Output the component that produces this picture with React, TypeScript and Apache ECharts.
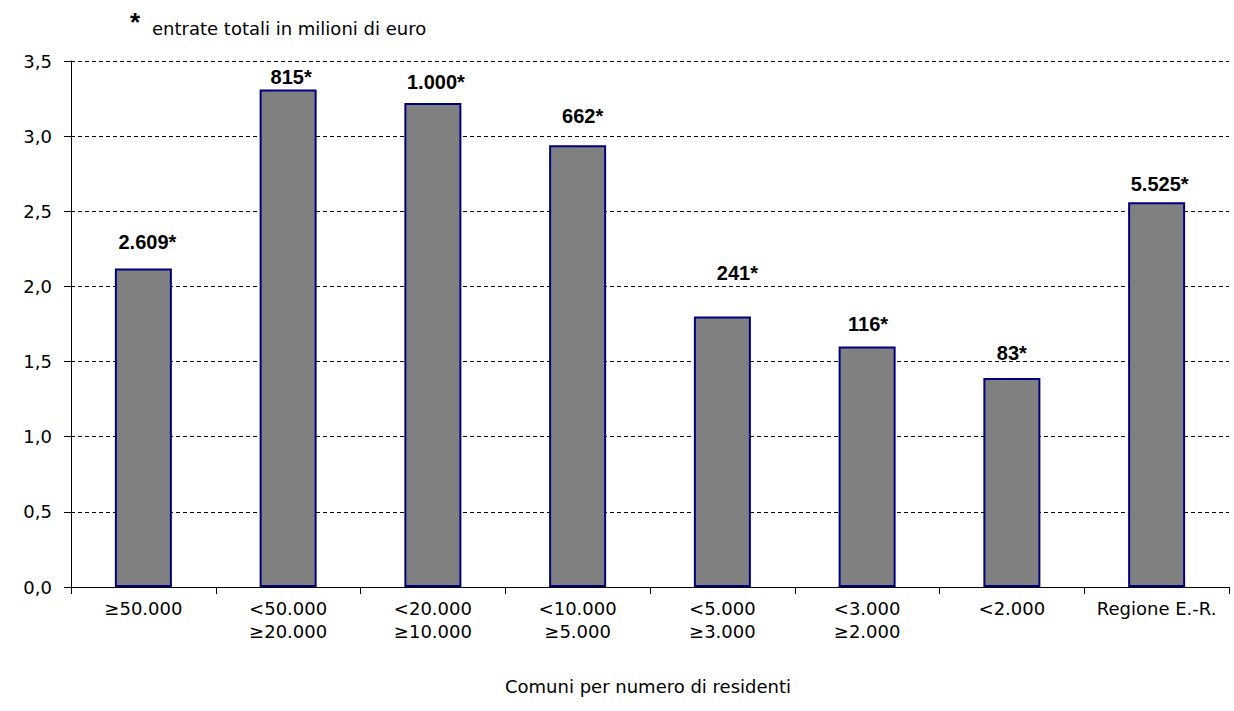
import React, { useEffect, useRef } from "react";
import * as echarts from "echarts";

const categories = [
  "≥50.000",
  "<50.000\n≥20.000",
  "<20.000\n≥10.000",
  "<10.000\n≥5.000",
  "<5.000\n≥3.000",
  "<3.000\n≥2.000",
  "<2.000",
  "Regione E.-R.",
];
const values = [2.12, 3.31, 3.22, 2.94, 1.8, 1.6, 1.39, 2.56];
const valueLabels = ["2.609*", "815*", "1.000*", "662*", "241*", "116*", "83*", "5.525*"];
const labelDistances = [16, 3, 11, 19, 33, 13, 15, 8];
const labelShiftX = [4, 3, 3, 5, 15, 1, 0, 3];
const yMin = 0;
const yMax = 3.5;
const yStep = 0.5;
const noteText = "entrate totali in milioni di euro";
const axisTitle = "Comuni per numero di residenti";

const REG = "'DejaVu Sans', 'Liberation Sans', Arial, sans-serif";
const BOLD = "'Liberation Sans', Arial, sans-serif";

export default function App() {
  const ref = useRef<HTMLDivElement>(null);
  useEffect(() => {
    document.body.style.margin = "0";
    if (!ref.current) return;
    const chart = echarts.init(ref.current, undefined, { renderer: "svg" });
    chart.setOption({
      animation: false,
      backgroundColor: "#ffffff",
      grid: { left: 71, right: 5, top: 61, bottom: 124, containLabel: false },
      xAxis: {
        type: "category",
        data: categories,
        boundaryGap: true,
        axisLine: { show: true, lineStyle: { color: "#000", width: 1 } },
        axisTick: { show: true, interval: 0, length: 7, lineStyle: { color: "#000" } },
        axisLabel: {
          interval: 0,
          margin: 10,
          lineHeight: 23,
          color: "#000",
          fontFamily: REG,
          fontSize: 18,
          align: "center",
        },
        splitLine: { show: false },
      },
      yAxis: {
        type: "value",
        min: yMin,
        max: yMax,
        interval: yStep,
        axisLine: { show: true, lineStyle: { color: "#000", width: 1 } },
        axisTick: { show: true, length: 7, lineStyle: { color: "#000" } },
        axisLabel: {
          margin: 19,
          color: "#000",
          fontFamily: REG,
          fontSize: 18,
          formatter: (v: number) => v.toFixed(1).replace(".", ","),
        },
        splitLine: { show: true, lineStyle: { color: "#000", width: 1, type: [4, 3] } },
      },
      series: [
        {
          type: "bar",
          barWidth: 57,
          data: values.map((v, i) => ({
            value: v,
            label: {
              show: true,
              position: "top",
              distance: labelDistances[i],
              offset: [labelShiftX[i], 0],
              formatter: valueLabels[i],
            },
          })),
          itemStyle: { color: "#808080", borderColor: "#000080", borderWidth: 2 },
          label: {
            show: true,
            color: "#000",
            fontFamily: BOLD,
            fontWeight: "bold",
            fontSize: 20,
          },
        },
      ],
      graphic: [
        {
          type: "text",
          left: 130,
          top: 9,
          style: { text: "*", fill: "#000", font: "bold 26px 'Liberation Sans', Arial, sans-serif" },
        },
        {
          type: "text",
          left: 152,
          top: 19,
          style: { text: noteText, fill: "#000", font: `18px ${REG}` },
        },
        {
          type: "text",
          x: 648,
          y: 686,
          style: {
            text: axisTitle,
            fill: "#000",
            font: `18px ${REG}`,
            textAlign: "center",
            textVerticalAlign: "middle",
          },
        },
      ],
    });
    return () => chart.dispose();
  }, []);
  return <div ref={ref} style={{ width: 1234, height: 711 }} />;
}
